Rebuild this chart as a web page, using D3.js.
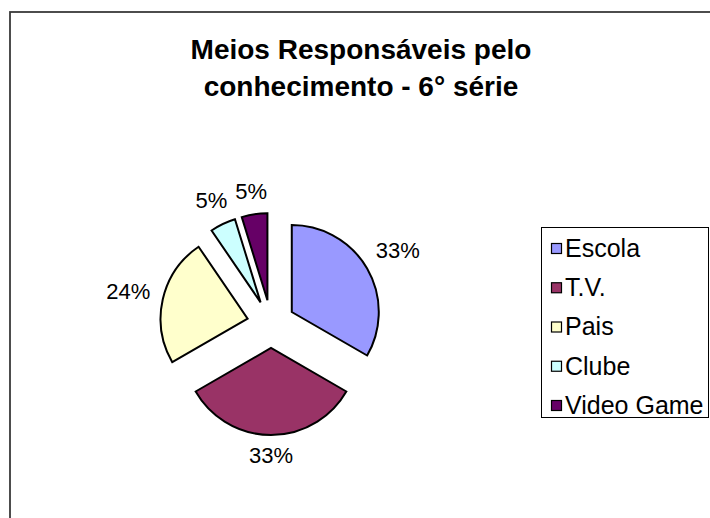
<!DOCTYPE html>
<html>
<head>
<meta charset="utf-8">
<script src="https://cdn.jsdelivr.net/npm/d3@7"></script>
<style>
  html, body { margin: 0; padding: 0; background: #fff; }
  svg { display: block; font-family: "Liberation Sans", Arial, sans-serif; }
</style>
</head>
<body>
<svg id="chart" width="710" height="518"></svg>
<script>
const categories = ["Escola", "T.V.", "Pais", "Clube", "Video Game"];
const counts = [7, 7, 5, 1, 1];
const labels = ["33%", "33%", "24%", "5%", "5%"];
const titleLines = ["Meios Responsáveis pelo", "conhecimento - 6° série"];

const colors = d3.scaleOrdinal()
  .domain(categories)
  .range(["#9999ff", "#993366", "#ffffcc", "#ccffff", "#660066"]);

const svg = d3.select("#chart");

// chart frame, cut off at right and bottom like the original
svg.append("rect")
  .attr("x", 10)
  .attr("y", 12)
  .attr("width", 740)
  .attr("height", 560)
  .attr("fill", "#fff")
  .attr("stroke", "#3a3a3a")
  .attr("stroke-width", 1.8);

svg.append("g")
  .selectAll("text")
  .data(titleLines)
  .join("text")
  .attr("x", 361)
  .attr("y", (d, i) => 59 + i * 37)
  .attr("text-anchor", "middle")
  .attr("font-size", 28)
  .attr("font-weight", "bold")
  .text(d => d);

const cx = 271, cy = 324;
const radius = 87;
const explode = 24;
const gap = 12;

const pie = d3.pie().sort(null).value(d => d.value);
const arcs = pie(categories.map((c, i) => ({ name: c, value: counts[i], label: labels[i] })));
const arc = d3.arc().innerRadius(0).outerRadius(radius);

const dir = a => [Math.sin(a), -Math.cos(a)];

const pieG = svg.append("g").attr("transform", `translate(${cx},${cy})`);

pieG.selectAll("path")
  .data(arcs)
  .join("path")
  .attr("transform", d => {
    const [ux, uy] = dir((d.startAngle + d.endAngle) / 2);
    return `translate(${ux * explode},${uy * explode})`;
  })
  .attr("d", arc)
  .attr("fill", d => colors(d.data.name))
  .attr("stroke", "#000")
  .attr("stroke-width", 2)
  .attr("stroke-linejoin", "miter");

const labelText = pieG.selectAll("text")
  .data(arcs)
  .join("text")
  .attr("font-size", 22)
  .attr("text-anchor", "middle")
  .attr("dominant-baseline", "central")
  .text(d => d.data.label);

labelText.each(function(d) {
  const w = this.getComputedTextLength();
  const h = 17;
  const [ux, uy] = dir((d.startAngle + d.endAngle) / 2);
  const r = radius + explode + gap + Math.abs(ux) * w / 2 + Math.abs(uy) * h / 2;
  d3.select(this).attr("x", ux * r).attr("y", uy * r);
});

// legend
const legend = svg.append("g").attr("transform", "translate(541,227)");
legend.append("rect")
  .attr("x", 0.5)
  .attr("y", 0.5)
  .attr("width", 167)
  .attr("height", 190)
  .attr("fill", "#fff")
  .attr("stroke", "#000")
  .attr("stroke-width", 1);

const rowY = d3.scalePoint().domain(categories).range([21, 178]);

const items = legend.selectAll("g.item")
  .data(categories)
  .join("g")
  .attr("class", "item")
  .attr("transform", d => `translate(0,${rowY(d)})`);

items.append("rect")
  .attr("x", 10.5)
  .attr("y", -4.5)
  .attr("width", 10)
  .attr("height", 10)
  .attr("fill", d => colors(d))
  .attr("stroke", "#000")
  .attr("stroke-width", 1.2);

items.append("text")
  .attr("x", 24)
  .attr("dy", "0.35em")
  .attr("font-size", 25)
  .text(d => d);
</script>
</body>
</html>
